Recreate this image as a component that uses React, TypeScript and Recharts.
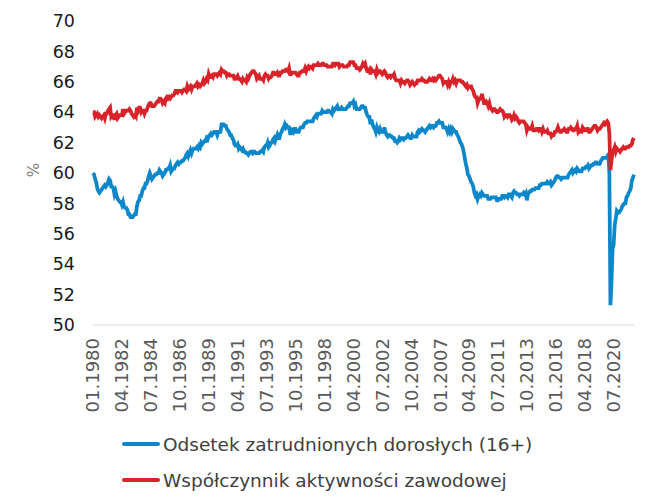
import { LineChart, Line, XAxis, YAxis, Legend } from "recharts"

const BLUE = "#0C87C9"
const RED = "#D9232A"
const FONT = "DejaVu Sans, Verdana, sans-serif"

// first month of the series: 01.1980, monthly, seasonally adjusted
const START_YEAR = 1980

// employment-population ratio, 16+ (%)
const employment = [
  60.0, 59.9, 59.6, 59.4, 59.0, 58.8, 58.7, 58.8, 58.9, 59.0, 59.1, 59.2,
  59.1, 59.2, 59.4, 59.6, 59.5, 59.1, 59.1, 59.0, 58.6, 58.8, 58.5, 58.3,
  58.2, 58.1, 58.1, 57.9, 58.1, 57.8, 57.7, 57.7, 57.6, 57.3, 57.3, 57.1,
  57.1, 57.1, 57.2, 57.3, 57.3, 57.8, 58.1, 58.2, 58.5, 58.5, 58.8, 59.0,
  59.0, 59.3, 59.3, 59.5, 59.8, 60.0, 59.8, 59.6, 59.7, 59.8, 59.9, 59.9,
  60.0, 60.0, 60.2, 60.1, 60.0, 59.8, 59.9, 60.0, 60.2, 60.2, 60.3, 60.3,
  60.5, 60.1, 60.2, 60.3, 60.3, 60.5, 60.6, 60.7, 60.6, 60.7, 60.7, 60.8,
  60.8, 60.9, 61.0, 61.2, 61.3, 61.1, 61.3, 61.5, 61.3, 61.5, 61.6, 61.6,
  61.6, 61.7, 61.6, 61.8, 61.7, 62.0, 61.9, 62.0, 62.1, 62.1, 62.3, 62.2,
  62.4, 62.5, 62.6, 62.5, 62.6, 62.7, 62.7, 62.7, 62.5, 62.7, 62.7, 62.7,
  63.2, 63.2, 63.2, 63.1, 63.1, 62.9, 62.8, 62.7, 62.5, 62.5, 62.3, 62.2,
  61.9, 61.8, 61.8, 61.9, 61.6, 61.7, 61.6, 61.5, 61.6, 61.4, 61.4, 61.3,
  61.3, 61.2, 61.3, 61.4, 61.4, 61.3, 61.4, 61.4, 61.3, 61.3, 61.3, 61.3,
  61.4, 61.4, 61.5, 61.4, 61.7, 61.8, 61.8, 62.0, 61.7, 61.8, 62.0, 62.0,
  62.2, 62.3, 62.1, 62.3, 62.5, 62.3, 62.3, 62.6, 62.7, 62.9, 63.0, 63.2,
  63.0, 63.1, 63.0, 63.0, 62.6, 62.6, 62.8, 62.7, 62.9, 62.9, 62.7, 62.7,
  62.7, 62.9, 63.0, 63.0, 63.0, 63.2, 63.3, 63.3, 63.4, 63.4, 63.4, 63.4,
  63.4, 63.4, 63.6, 63.7, 63.8, 63.7, 63.9, 63.9, 63.9, 63.9, 64.1, 64.0,
  64.0, 64.0, 64.0, 64.1, 64.1, 64.0, 64.0, 63.9, 64.2, 64.1, 64.2, 64.3,
  64.4, 64.2, 64.2, 64.2, 64.3, 64.2, 64.2, 64.2, 64.2, 64.3, 64.4, 64.4,
  64.6, 64.6, 64.6, 64.7, 64.4, 64.5, 64.2, 64.2, 64.2, 64.2, 64.3, 64.4,
  64.4, 64.3, 64.3, 64.0, 63.8, 63.7, 63.7, 63.2, 63.5, 63.2, 63.0, 62.9,
  62.7, 63.0, 62.8, 62.7, 62.9, 62.7, 62.7, 62.7, 63.0, 62.7, 62.5, 62.4,
  62.5, 62.5, 62.4, 62.4, 62.3, 62.3, 62.1, 62.1, 62.0, 62.1, 62.3, 62.2,
  62.3, 62.3, 62.2, 62.3, 62.3, 62.4, 62.5, 62.4, 62.3, 62.3, 62.5, 62.4,
  62.4, 62.4, 62.4, 62.7, 62.8, 62.7, 62.8, 62.9, 62.8, 62.8, 62.7, 62.8,
  62.9, 63.0, 63.1, 63.0, 63.1, 63.1, 63.0, 63.1, 63.1, 63.3, 63.3, 63.4,
  63.3, 63.3, 63.3, 63.0, 63.0, 63.0, 62.9, 62.7, 62.9, 62.7, 62.9, 62.7,
  62.9, 62.8, 62.7, 62.7, 62.5, 62.4, 62.2, 62.0, 61.9, 61.7, 61.4, 61.0,
  60.6, 60.3, 59.9, 59.8, 59.6, 59.4, 59.3, 59.1, 58.7, 58.5, 58.6, 58.3,
  58.5, 58.6, 58.5, 58.7, 58.6, 58.5, 58.5, 58.5, 58.5, 58.3, 58.3, 58.3,
  58.4, 58.4, 58.4, 58.4, 58.4, 58.2, 58.2, 58.3, 58.3, 58.3, 58.5, 58.5,
  58.4, 58.5, 58.5, 58.4, 58.6, 58.6, 58.5, 58.4, 58.7, 58.8, 58.7, 58.7,
  58.6, 58.6, 58.5, 58.6, 58.6, 58.6, 58.7, 58.6, 58.7, 58.2, 58.6, 58.7,
  58.8, 58.8, 58.9, 58.9, 58.9, 59.0, 59.0, 59.0, 59.0, 59.2, 59.2, 59.3,
  59.3, 59.3, 59.3, 59.3, 59.4, 59.3, 59.3, 59.4, 59.2, 59.3, 59.4, 59.5,
  59.7, 59.8, 59.8, 59.7, 59.7, 59.6, 59.7, 59.7, 59.7, 59.7, 59.7, 59.7,
  59.9, 60.0, 60.1, 60.2, 60.0, 60.1, 60.2, 60.1, 60.3, 60.2, 60.1, 60.1,
  60.1, 60.3, 60.3, 60.3, 60.4, 60.4, 60.5, 60.3, 60.4, 60.5, 60.5, 60.6,
  60.6, 60.7, 60.7, 60.6, 60.6, 60.6, 60.8, 60.9, 61.0, 61.0, 61.0, 61.0,
  61.1, 61.2, 60.0, 51.3, 52.8, 55.0, 55.3, 56.6, 57.0, 57.5, 57.4, 57.4,
  57.5, 57.6, 57.8, 57.9, 58.0, 58.0, 58.4, 58.5, 58.7, 58.8, 59.0, 59.5,
  59.7, 59.9,
]

// labour force participation rate (%)
const participation = [
  64.0, 64.0, 63.7, 63.8, 63.9, 63.7, 63.8, 63.7, 63.6, 63.7, 63.8, 63.6,
  63.9, 63.9, 64.1, 64.2, 64.3, 63.7, 63.8, 63.8, 63.5, 63.8, 63.9, 63.6,
  63.7, 63.8, 63.8, 63.8, 64.2, 63.9, 64.0, 64.1, 64.1, 64.1, 64.2, 64.1,
  63.9, 63.8, 63.7, 63.8, 63.7, 64.3, 64.1, 64.3, 64.3, 64.0, 64.1, 64.1,
  63.9, 64.1, 64.1, 64.3, 64.5, 64.6, 64.6, 64.4, 64.4, 64.4, 64.5, 64.6,
  64.7, 64.7, 64.9, 64.9, 64.8, 64.6, 64.7, 64.6, 64.9, 65.0, 64.9, 65.0,
  64.9, 65.0, 65.1, 65.1, 65.2, 65.4, 65.4, 65.3, 65.4, 65.4, 65.4, 65.3,
  65.4, 65.5, 65.5, 65.4, 65.7, 65.5, 65.6, 65.7, 65.5, 65.7, 65.7, 65.7,
  65.8, 65.9, 65.7, 65.8, 65.7, 65.8, 65.9, 66.1, 65.9, 66.0, 66.2, 66.1,
  66.5, 66.3, 66.3, 66.4, 66.3, 66.5, 66.5, 66.5, 66.4, 66.5, 66.6, 66.5,
  66.8, 66.7, 66.7, 66.6, 66.6, 66.4, 66.5, 66.5, 66.4, 66.4, 66.4, 66.4,
  66.2, 66.2, 66.3, 66.4, 66.2, 66.2, 66.1, 66.0, 66.2, 66.1, 66.1, 66.0,
  66.3, 66.2, 66.4, 66.5, 66.6, 66.7, 66.7, 66.6, 66.5, 66.2, 66.3, 66.4,
  66.2, 66.2, 66.2, 66.1, 66.4, 66.5, 66.4, 66.4, 66.2, 66.3, 66.3, 66.4,
  66.6, 66.6, 66.5, 66.5, 66.6, 66.4, 66.4, 66.6, 66.6, 66.7, 66.7, 66.7,
  66.8, 66.8, 66.7, 66.9, 66.5, 66.5, 66.6, 66.6, 66.6, 66.6, 66.5, 66.4,
  66.4, 66.6, 66.6, 66.7, 66.7, 66.7, 66.9, 66.7, 66.9, 67.0, 66.9, 67.0,
  67.0, 66.9, 67.1, 67.1, 67.1, 67.1, 67.2, 67.1, 67.1, 67.1, 67.2, 67.2,
  67.1, 67.1, 67.1, 67.0, 67.0, 67.0, 67.0, 67.0, 67.2, 67.2, 67.1, 67.2,
  67.2, 67.2, 67.0, 67.1, 67.1, 67.1, 67.0, 67.0, 67.0, 67.0, 67.1, 67.1,
  67.3, 67.3, 67.3, 67.3, 67.1, 67.1, 66.9, 66.9, 66.9, 66.8, 66.9, 67.0,
  67.2, 67.1, 67.2, 66.9, 66.7, 66.7, 66.8, 66.5, 66.8, 66.7, 66.7, 66.7,
  66.5, 66.8, 66.6, 66.7, 66.7, 66.6, 66.5, 66.6, 66.7, 66.6, 66.4, 66.3,
  66.4, 66.4, 66.3, 66.4, 66.4, 66.5, 66.2, 66.1, 66.1, 66.1, 66.1, 65.9,
  66.1, 66.0, 66.0, 65.9, 66.0, 66.1, 66.1, 66.0, 65.8, 65.9, 66.0, 65.9,
  65.8, 65.9, 65.9, 66.1, 66.1, 66.1, 66.1, 66.2, 66.1, 66.1, 66.0, 66.0,
  66.0, 66.1, 66.2, 66.1, 66.1, 66.2, 66.1, 66.2, 66.1, 66.2, 66.3, 66.4,
  66.4, 66.3, 66.2, 65.9, 66.0, 66.0, 66.0, 65.8, 66.0, 65.8, 66.0, 66.0,
  66.2, 66.0, 66.1, 65.9, 66.1, 66.1, 66.1, 66.1, 66.0, 66.0, 65.9, 65.8,
  65.7, 65.8, 65.6, 65.7, 65.7, 65.7, 65.5, 65.4, 65.1, 65.0, 65.0, 64.6,
  64.8, 64.9, 64.9, 65.2, 64.9, 64.6, 64.6, 64.7, 64.6, 64.4, 64.6, 64.3,
  64.2, 64.1, 64.2, 64.2, 64.1, 64.0, 64.0, 64.1, 64.2, 64.1, 64.1, 64.0,
  63.7, 63.8, 63.8, 63.7, 63.8, 63.8, 63.7, 63.5, 63.6, 63.8, 63.6, 63.7,
  63.6, 63.4, 63.3, 63.4, 63.4, 63.4, 63.4, 63.3, 63.2, 62.8, 63.0, 62.9,
  62.9, 62.9, 63.1, 62.8, 62.8, 62.8, 62.9, 62.9, 62.8, 62.9, 62.9, 62.7,
  62.9, 62.7, 62.7, 62.7, 62.8, 62.6, 62.6, 62.6, 62.4, 62.5, 62.5, 62.7,
  62.7, 62.8, 63.0, 62.8, 62.7, 62.7, 62.8, 62.8, 62.9, 62.8, 62.7, 62.7,
  62.9, 62.9, 63.0, 62.9, 62.8, 62.8, 62.9, 62.9, 63.1, 62.7, 62.8, 62.7,
  62.7, 63.0, 62.9, 62.8, 62.8, 62.9, 62.9, 62.7, 62.7, 62.8, 62.9, 63.0,
  63.1, 63.1, 63.0, 62.8, 62.9, 62.9, 63.0, 63.1, 63.2, 63.3, 63.2, 63.3,
  63.4, 63.3, 62.6, 60.2, 60.8, 61.4, 61.5, 61.7, 61.4, 61.6, 61.5, 61.5,
  61.4, 61.5, 61.6, 61.7, 61.6, 61.6, 61.7, 61.7, 61.7, 61.8, 61.8, 61.9,
  62.2, 62.3,
]

const yTicks = [50, 52, 54, 56, 58, 60, 62, 64, 66, 68, 70]

const series = [
  { key: "employment", name: "Odsetek zatrudnionych dorosłych (16+)", color: BLUE },
  { key: "participation", name: "Współczynnik aktywności zawodowej", color: RED },
]

const months = employment.map((_, i) => {
  const m = String((i % 12) + 1).padStart(2, "0")
  return `${m}.${START_YEAR + Math.floor(i / 12)}`
})

const data = months.map((month, i) => ({
  month,
  employment: employment[i],
  participation: participation[i],
}))

function MonthTick({ x, y, payload }: any) {
  return (
    <text
      x={x}
      y={y}
      dy="0.36em"
      textAnchor="end"
      transform={`rotate(-90, ${x}, ${y})`}
      fontSize={18}
      fontFamily={FONT}
      fill="#595959"
    >
      {payload.value}
    </text>
  )
}

function PercentLabel() {
  return (
    <text
      x={34}
      y={170}
      textAnchor="middle"
      dominantBaseline="central"
      transform="rotate(-90, 34, 170)"
      fontSize={15}
      fontFamily={FONT}
      fill="#7f7f7f"
    >
      %
    </text>
  )
}

function LegendRows() {
  return (
    <div style={{ paddingLeft: 122, fontFamily: FONT }}>
      {series.map((s) => (
        <div key={s.key} style={{ display: "flex", alignItems: "center", height: 36 }}>
          <span style={{ width: 38, height: 4, borderRadius: 2, background: s.color }} />
          <span style={{ marginLeft: 3, fontSize: 18.5, color: "#404040", whiteSpace: "nowrap" }}>
            {s.name}
          </span>
        </div>
      ))}
    </div>
  )
}

export default function App() {
  return (
    <div style={{ position: "absolute", left: 0, top: 0, background: "#fff" }}>
      <LineChart
        width={655}
        height={504}
        data={data}
        margin={{ top: 21, right: 21, left: 0, bottom: 0 }}
      >
        <XAxis
          dataKey="month"
          interval={26}
          tickLine={false}
          tickSize={0}
          tickMargin={13}
          height={107}
          axisLine={{ stroke: "#d9d9d9", strokeWidth: 1 }}
          tick={<MonthTick />}
        />
        <YAxis
          domain={[50, 70]}
          ticks={yTicks}
          width={93}
          axisLine={false}
          tickLine={false}
          tickSize={0}
          tickMargin={18}
          tick={{ fontSize: 17.5, fontFamily: FONT, fill: "#1a1a1a" }}
          label={<PercentLabel />}
        />
        <Legend
          verticalAlign="bottom"
          content={<LegendRows />}
          wrapperStyle={{ left: 0, top: 426, bottom: "auto", width: 655, height: 72 }}
        />
        {series.map((s) => (
          <Line
            key={s.key}
            dataKey={s.key}
            name={s.name}
            type="linear"
            stroke={s.color}
            strokeWidth={3.75}
            dot={false}
            isAnimationActive={false}
          />
        ))}
      </LineChart>
    </div>
  )
}
